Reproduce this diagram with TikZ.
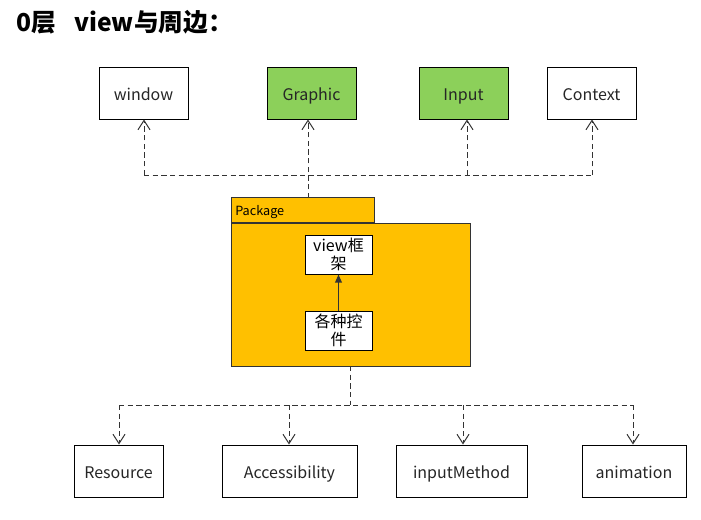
\documentclass[tikz,border=0pt]{standalone}
\usepackage{fontspec}
\setmainfont{Noto Sans CJK SC}
\usetikzlibrary{arrows.meta}
\definecolor{boxgreen}{HTML}{8CD05A}
\definecolor{pkgorange}{HTML}{FFC000}
\definecolor{linegray}{HTML}{333333}
\tikzset{
  box/.style={draw=black, fill=white, line width=0.75pt, minimum width=66.75pt, minimum height=39pt, inner sep=0pt, text height=12pt, text depth=0.5pt, font=\fontsize{12}{14}\selectfont, text=black!85},
  greenbox/.style={box, fill=boxgreen},
  innerbox/.style={draw=black, fill=white, line width=0.75pt, minimum width=50.25pt, minimum height=29.25pt, inner sep=0pt, align=center, font=\fontsize{12}{13.5}\selectfont},
  dep/.style={draw=linegray, line width=0.75pt, dash pattern=on 4pt off 2.5pt},
  deparrow/.style={dep, -{Straight Barb[length=7pt, width=9pt, line width=0.75pt]}},
  inh/.style={draw=linegray, line width=0.9pt, -{Triangle[length=6pt, width=5pt]}},
}
\begin{document}
\begin{tikzpicture}[x=0.75pt, y=-0.75pt]
\useasboundingbox (0,0) rectangle (701,519);
% title
\node[anchor=west, inner sep=0pt, font=\fontsize{18.5}{21}\selectfont\bfseries] (title) at (16,22) {0层\hspace{14pt}view与周边：};
% top boxes
\node[box] (window) at (143.5,93) {window};
\node[greenbox] (graphic) at (311.5,93) {Graphic};
\node[greenbox] (input) at (463.5,93) {Input};
\node[box] (context) at (591.5,93) {Context};
% package
\node[draw=linegray, fill=pkgorange, line width=0.75pt, minimum width=179.25pt, minimum height=107.25pt, inner sep=0pt, anchor=north west] (pkg) at (231,223) {};
\node[draw=linegray, fill=pkgorange, line width=0.75pt, minimum width=107.25pt, minimum height=18.75pt, inner sep=0pt, anchor=south west] (pkgtab) at (231,223) {};
\node[anchor=west, inner sep=0pt, font=\fontsize{9.5}{11}\selectfont] (pkglabel) at (235,212) {Package};
\node[innerbox] (viewfw) at (338.5,254.5) {view框\\架};
\node[innerbox] (ctrls) at (338.5,330.5) {各种控\\件};
\draw[inh] (ctrls) -- (viewfw);
% top dependencies
\coordinate (tabtop) at (308,198);
\coordinate (hl) at (144,175);
\coordinate (hr) at (592,175);
\coordinate (hi) at (467,175);
\draw[deparrow] (tabtop) -- (tabtop |- graphic.south);
\draw[dep] (hl) -- (hr);
\draw[deparrow] (hl) -- (hl |- window.south);
\draw[deparrow] (hi) -- (hi |- input.south);
\draw[deparrow] (hr) -- (hr |- context.south);
% bottom boxes
\node[box] (resource) at (118.5,471) {Resource};
\node[box, minimum width=101.25pt] (access) at (289.5,471) {Accessibility};
\node[box, minimum width=98.25pt] (inputm) at (461.5,471) {inputMethod};
\node[box, minimum width=78pt] (anim) at (634,471) {animation};
% bottom dependencies
\coordinate (pb) at (350,366);
\coordinate (bm) at (350,405);
\coordinate (b1) at (119,405);
\coordinate (b2) at (289,405);
\coordinate (b3) at (463,405);
\coordinate (b4) at (633,405);
\draw[dep] (pb) -- (bm);
\draw[dep] (b1) -- (b4);
\draw[deparrow] (b1) -- (b1 |- resource.north);
\draw[deparrow] (b2) -- (b2 |- access.north);
\draw[deparrow] (b3) -- (b3 |- inputm.north);
\draw[deparrow] (b4) -- (b4 |- anim.north);
\end{tikzpicture}
\end{document}
